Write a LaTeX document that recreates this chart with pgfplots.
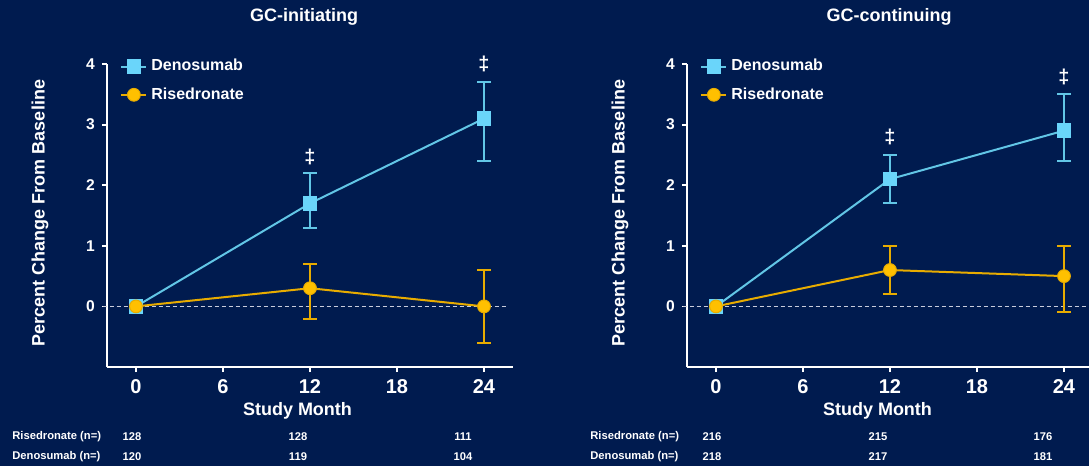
\documentclass[border=0pt]{standalone}
\usepackage{fontspec}
\setmainfont{Liberation Sans}
\usepackage{pgfplots}
\pgfplotsset{compat=1.18}
\definecolor{bg}{HTML}{001B4F}
\definecolor{den}{HTML}{6AD5FA}
\definecolor{denline}{HTML}{62C6E6}
\definecolor{ris}{HTML}{FFC000}
\definecolor{risline}{HTML}{E8AC00}
\definecolor{dashc}{HTML}{C8CCDC}

\pgfplotsset{
 panel/.style={
  scale only axis, width=203pt, height=151.5pt,
  xmin=-2, xmax=26, ymin=-1, ymax=4,
  axis lines*=left,
  axis line style={white, line width=0.9pt},
  every tick/.style={white, line width=0.9pt},
  tick align=outside, major tick length=2.6pt,
  xtick={0,6,12,18,24}, ytick={0,1,2,3,4},
  /pgf/number format/assume math mode=true,
  xticklabel style={font=\fontsize{10}{12}\selectfont\bfseries, text=white},
  yticklabel style={font=\fontsize{7.8}{9}\selectfont\bfseries, text=white},
  clip=false,
  legend cell align=left,
  legend style={draw=none, fill=none, text=white, font=\fontsize{8}{9.6}\selectfont\bfseries,
    at={(0.032,1.03)}, anchor=north west, row sep=2.8pt, inner sep=0pt},
  legend image code/.code={\draw[mark repeat=2,mark phase=2] plot coordinates {(0pt,0pt)(6.25pt,0pt)(12.5pt,0pt)};},
 },
 denstyle/.style={denline, line width=1pt, mark=square*, mark size=3.1pt,
   mark options={fill=den, draw=den, solid},
   error bars/.cd, y dir=both, y explicit,
   error bar style={denline, line width=1pt},
   error mark options={rotate=90, denline, line width=1pt, mark size=3.3pt}},
 risstyle/.style={risline, line width=1pt, mark=*, mark size=3.2pt,
   mark options={fill=ris, draw=risline, line width=0.5pt, solid},
   error bars/.cd, y dir=both, y explicit,
   error bar style={risline, line width=1pt},
   error mark options={rotate=90, risline, line width=1pt, mark size=3.3pt}},
}
\newcommand{\dg}{\fontsize{10}{11}\selectfont\bfseries}

\begin{document}
\begin{tikzpicture}
\path[use as bounding box, fill=bg] (0,0) rectangle (544.5pt,-233pt);

% Left panel
\begin{axis}[panel, at={(53.5pt,-183.5pt)}, anchor=south west]
\addplot[forget plot, dashc, line width=0.6pt, dash pattern=on 2pt off 1.5pt] coordinates {(-2.3,0) (25.6,0)};
\addplot[denstyle] coordinates {
 (0,0) +- (0,0)
 (12,1.7) += (0,0.5) -= (0,0.4)
 (24,3.1) += (0,0.6) -= (0,0.7)
};
\addlegendentry{Denosumab}
\addplot[risstyle] coordinates {
 (0,0) +- (0,0)
 (12,0.3) += (0,0.4) -= (0,0.5)
 (24,0.0) += (0,0.6) -= (0,0.6)
};
\addlegendentry{Risedronate}
\node[white, font=\dg] at (axis cs:12,2.46) {‡};
\node[white, font=\dg] at (axis cs:24,4.0) {‡};
\end{axis}

% Right panel
\begin{axis}[panel, at={(343.5pt,-183.5pt)}, anchor=south west]
\addplot[forget plot, dashc, line width=0.6pt, dash pattern=on 2pt off 1.5pt] coordinates {(-2.3,0) (25.6,0)};
\addplot[denstyle] coordinates {
 (0,0) +- (0,0)
 (12,2.1) += (0,0.4) -= (0,0.4)
 (24,2.9) += (0,0.6) -= (0,0.5)
};
\addlegendentry{Denosumab}
\addplot[risstyle] coordinates {
 (0,0) +- (0,0)
 (12,0.6) += (0,0.4) -= (0,0.4)
 (24,0.5) += (0,0.5) -= (0,0.6)
};
\addlegendentry{Risedronate}
\node[white, font=\dg] at (axis cs:12,2.79) {‡};
\node[white, font=\dg] at (axis cs:24,3.78) {‡};
\end{axis}

% Titles and labels
\begin{scope}[every node/.style={text=white, font=\fontsize{9}{11}\selectfont\bfseries}]
\node at (152pt,-8.5pt) {GC-initiating};
\node at (444.5pt,-8.5pt) {GC-continuing};
\node[rotate=90] at (20pt,-106.5pt) {Percent Change From Baseline};
\node[rotate=90] at (310pt,-106.5pt) {Percent Change From Baseline};
\node at (148.75pt,-205.5pt) {Study Month};
\node at (438.75pt,-205.5pt) {Study Month};
\end{scope}

% n= table
\begin{scope}[every node/.style={text=white, font=\fontsize{5.6}{6.5}\selectfont\bfseries, inner sep=0pt}]
\node[anchor=west] at (6pt,-218.5pt) {Risedronate (n=)};
\node[anchor=west] at (6pt,-228.5pt) {Denosumab (n=)};
\node at (66pt,-218.5pt) {128};
\node at (149pt,-218.5pt) {128};
\node at (231.5pt,-218.5pt) {111};
\node at (66pt,-228.5pt) {120};
\node at (149pt,-228.5pt) {119};
\node at (231.5pt,-228.5pt) {104};
\node[anchor=west] at (295pt,-218.5pt) {Risedronate (n=)};
\node[anchor=west] at (295pt,-228.5pt) {Denosumab (n=)};
\node at (356pt,-218.5pt) {216};
\node at (439pt,-218.5pt) {215};
\node at (521.5pt,-218.5pt) {176};
\node at (356pt,-228.5pt) {218};
\node at (439pt,-228.5pt) {217};
\node at (521.5pt,-228.5pt) {181};
\end{scope}
\end{tikzpicture}
\end{document}
